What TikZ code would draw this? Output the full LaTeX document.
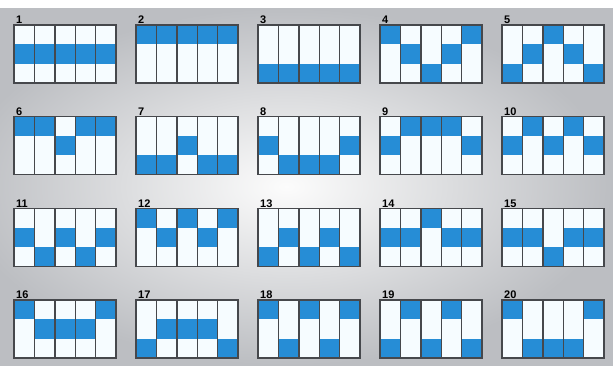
\documentclass[tikz,border=0pt]{standalone}
\usepackage{fontspec}
\setmainfont{Liberation Sans}
\definecolor{payblue}{RGB}{38,141,214}
\definecolor{cellwhite}{RGB}{246,252,255}
\definecolor{gridgray}{RGB}{70,72,76}
\definecolor{bgout}{RGB}{188,190,194}
\definecolor{bgin}{RGB}{252,252,252}
\tikzset{
  gridline/.style={draw=gridgray, line width=1.4pt},
  lab/.style={inner sep=0pt, font=\bfseries\fontsize{11}{11}\selectfont, text=black},
}
\begin{document}
\begin{tikzpicture}[x=1pt,y=-1pt]
\useasboundingbox (0,0) rectangle (613,365);
\shade[inner color=bgin, outer color=bgout] (-40,8) rectangle (613,365);
\fill[white] (0,0) rectangle (613,8);
\foreach \n/\a/\b/\c/\d/\e in {
  1/1/1/1/1/1, 2/0/0/0/0/0, 3/2/2/2/2/2, 4/0/1/2/1/0, 5/2/1/0/1/2,
  6/0/0/1/0/0, 7/2/2/1/2/2, 8/1/2/2/2/1, 9/1/0/0/0/1, 10/1/0/1/0/1,
  11/1/2/1/2/1, 12/0/1/0/1/0, 13/2/1/2/1/2, 14/1/1/0/1/1, 15/1/1/2/1/1,
  16/0/1/1/1/0, 17/2/1/1/1/2, 18/0/2/0/2/0, 19/2/0/2/0/2, 20/0/2/2/2/0}{
  \pgfmathtruncatemacro\col{mod(\n-1,5)}
  \pgfmathtruncatemacro\row{int((\n-1)/5)}
  \pgfmathsetmacro\gx{14+122*\col}
  \pgfmathsetmacro\gy{25+91.67*\row}
  \begin{scope}[shift={(\gx,\gy)}]
    \fill[cellwhite] (0,0) rectangle (102,58);
    \foreach \k/\r in {0/\a,1/\b,2/\c,3/\d,4/\e}
      \fill[payblue] (20.4*\k,19.33*\r) rectangle ++(20.4,19.34);
    \foreach \k in {1,...,4}
      \draw[gridline] (20.4*\k,0) -- (20.4*\k,58);
    \draw[gridline] (0,0) rectangle (102,58);
    \node[lab, anchor=south west] (lab\n) at (2,-1) {\n};
  \end{scope}
}
\end{tikzpicture}
\end{document}
